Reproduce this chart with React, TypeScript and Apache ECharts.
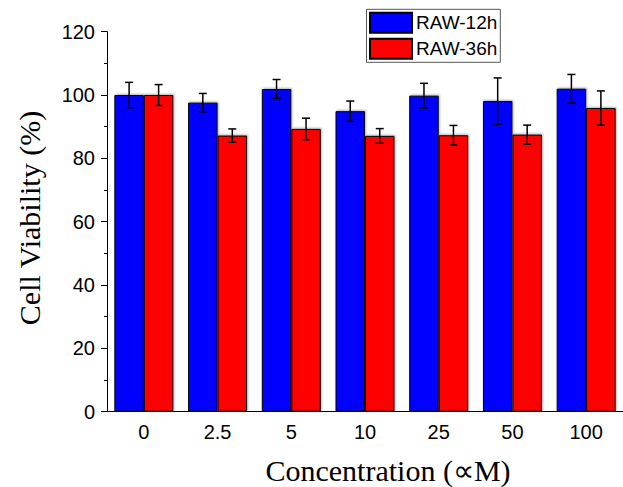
import React, { useEffect, useRef } from "react";
import * as echarts from "echarts";

// Concentrations tested (µM) and cell viability (%) after 12 h and 36 h
const concentrations = ["0", "2.5", "5", "10", "25", "50", "100"];
const viability12h = [100, 97.6, 101.9, 94.9, 99.8, 98.1, 102];
const error12h = [4, 2.9, 3, 3.2, 3.9, 7.3, 4.5];
const viability36h = [100, 87.2, 89.3, 87.1, 87.3, 87.5, 95.9];
const error36h = [3.3, 2.1, 3.4, 2.3, 3.1, 3, 5.4];
const yTicks = [0, 20, 40, 60, 80, 100, 120];

const SANS = "'Liberation Sans', Arial, sans-serif";
const SERIF = "'Liberation Serif', 'Times New Roman', serif";
const BAR_SHARE = 0.4; // each bar's share of a category band

function errorSeries(name: string, means: number[], errs: number[], side: number) {
  return {
    type: "custom",
    name: name + " error",
    silent: true,
    z: 5,
    data: means.map((m, i) => [i, m, errs[i]]),
    encode: { x: 0, y: 1 },
    renderItem: (_params: any, api: any) => {
      const idx = api.value(0);
      const mean = api.value(1);
      const err = api.value(2);
      const band = api.size([1, 0])[0];
      const x = api.coord([idx, mean])[0] + side * band * BAR_SHARE * 0.5;
      const yHi = api.coord([idx, mean + err])[1];
      const yLo = api.coord([idx, mean - err])[1];
      const cap = 4;
      const style = { stroke: "#000", lineWidth: 1.5, fill: "none" };
      return {
        type: "group",
        children: [
          { type: "line", shape: { x1: x, y1: yHi, x2: x, y2: yLo }, style },
          { type: "line", shape: { x1: x - cap, y1: yHi, x2: x + cap, y2: yHi }, style },
          { type: "line", shape: { x1: x - cap, y1: yLo, x2: x + cap, y2: yLo }, style },
        ],
      };
    },
  };
}

export default function App() {
  const ref = useRef<HTMLDivElement>(null);

  useEffect(() => {
    if (!ref.current) return;
    const chart = echarts.init(ref.current, undefined, { renderer: "svg" });
    const barStyle = (color: string) => ({
      color,
      borderColor: "#000",
      borderWidth: 1,
      shadowColor: "rgba(0,0,0,0.3)",
      shadowBlur: 2,
      shadowOffsetX: 1,
      shadowOffsetY: -1,
    });
    chart.setOption({
      animation: false,
      backgroundColor: "#fff",
      grid: { left: 107, top: 31.7, width: 523, height: 380, containLabel: false },
      legend: {
        orient: "vertical",
        left: 366.5,
        top: 9.3,
        padding: [2.5, 3, 2.5, 2.5],
        itemGap: 4,
        itemWidth: 42,
        itemHeight: 20,
        borderColor: "#555",
        borderWidth: 1,
        icon: "rect",
        data: ["RAW-12h", "RAW-36h"],
        textStyle: { fontFamily: SANS, fontSize: 19, color: "#000", padding: [0, 0, 0, -1] },
      },
      xAxis: [
        {
          type: "category",
          data: concentrations,
          position: "bottom",
          boundaryGap: true,
          axisLine: { lineStyle: { color: "#000", width: 1 } },
          axisTick: { alignWithLabel: true, interval: 0, length: 6, lineStyle: { color: "#000" } },
          axisLabel: { interval: 0, margin: 10, fontFamily: SANS, fontSize: 20, color: "#000" },
          splitLine: { show: false },
        },
        {
          // half-step ticks at the category boundaries
          type: "category",
          data: concentrations,
          position: "bottom",
          offset: 0,
          boundaryGap: true,
          axisLine: { show: false },
          axisTick: { interval: 0, length: 3, lineStyle: { color: "#000" } },
          axisLabel: { show: false },
          splitLine: { show: false },
        },
      ],
      yAxis: {
        type: "value",
        min: yTicks[0],
        max: yTicks[yTicks.length - 1],
        interval: yTicks[1] - yTicks[0],
        axisLine: { show: true, lineStyle: { color: "#000", width: 1 } },
        axisTick: { show: true, length: 6, lineStyle: { color: "#000" } },
        minorTick: { show: true, splitNumber: 2, length: 3, lineStyle: { color: "#000" } },
        axisLabel: { margin: 12, fontFamily: SANS, fontSize: 20, color: "#000" },
        splitLine: { show: false },
      },
      graphic: [
        {
          type: "text",
          x: 29,
          y: 218,
          rotation: Math.PI / 2,
          style: {
            text: "Cell Viability (%)",
            font: `30px ${SERIF}`,
            fill: "#000",
            textAlign: "center",
            textVerticalAlign: "middle",
            align: "center",
            verticalAlign: "middle",
          },
        },
        {
          type: "text",
          x: 388,
          y: 470,
          style: {
            text: "Concentration (\u221DM)",
            font: `30px ${SERIF}`,
            fill: "#000",
            textAlign: "center",
            textVerticalAlign: "middle",
            align: "center",
            verticalAlign: "middle",
          },
        },
      ],
      series: [
        {
          type: "bar",
          name: "RAW-12h",
          data: viability12h,
          barWidth: `${BAR_SHARE * 100}%`,
          barGap: "0%",
          itemStyle: barStyle("#0000ff"),
        },
        {
          type: "bar",
          name: "RAW-36h",
          data: viability36h,
          barWidth: `${BAR_SHARE * 100}%`,
          barGap: "0%",
          itemStyle: barStyle("#ff0000"),
        },
        errorSeries("RAW-12h", viability12h, error12h, -1),
        errorSeries("RAW-36h", viability36h, error36h, 1),
      ],
    });
    return () => chart.dispose();
  }, []);

  return (
    <div
      ref={ref}
      style={{ position: "fixed", left: 0, top: 0, width: 623, height: 487, background: "#fff" }}
    />
  );
}
